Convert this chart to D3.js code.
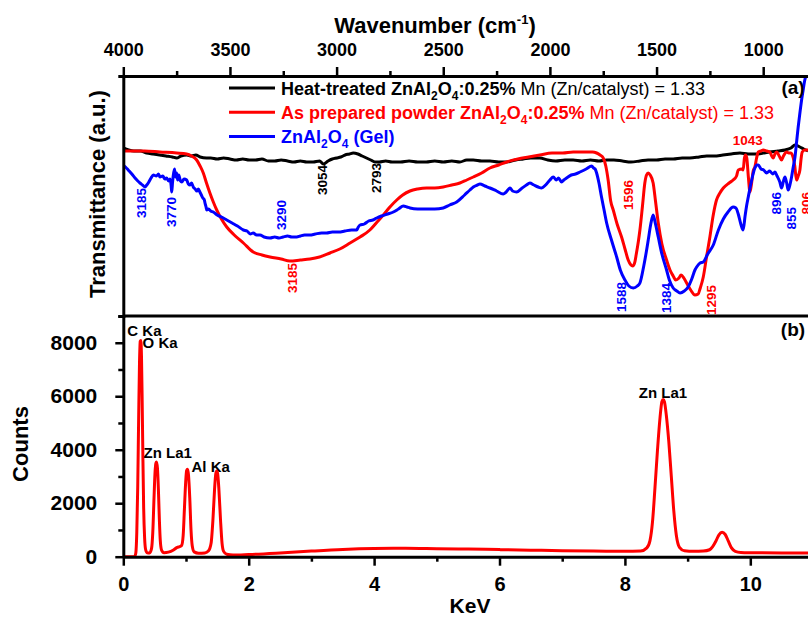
<!DOCTYPE html>
<html lang="en">
<head>
<meta charset="utf-8">
<title>FTIR and EDS of ZnAl2O4:Mn</title>
<script src="https://cdn.jsdelivr.net/npm/d3@7"></script>
<style>
    body { margin: 0; background: #fff; }
    svg { display: block; font-family: "Liberation Sans", Arial, sans-serif; font-weight: bold; }
</style>
</head>
<body>
<svg id="chart"></svg>
<script>
    // ---- data ----
    // FTIR: [wavenumber cm-1, transmittance a.u.]
    const heatTreated = [
        [4000,168],[3975,166],[3950,165],[3920,165],[3890,163],[3860,162],[3830,161],[3800,160],[3770,159],[3750,158],
        [3730,160],[3703,161],[3680,160],[3660,161],[3640,159],[3610,158],[3590,158],[3560,157],[3530,158],[3500,157],
        [3470,156],[3440,157],[3410,156],[3380,156],[3350,157],[3320,155],[3290,155],[3260,156],[3230,155],[3200,154],
        [3170,155],[3140,154],[3110,154],[3080,155],[3062,152],[3040,155],[3020,157],[3000,158],[2980,159],[2960,161],
        [2940,162],[2922,163],[2900,162],[2880,160],[2860,158],[2840,156],[2820,154],[2800,154],[2770,155],[2740,154],
        [2700,154],[2660,155],[2620,154],[2580,154],[2540,155],[2500,154],[2460,155],[2422,154],[2390,156],[2359,156],
        [2320,155],[2281,155],[2240,154],[2203,154],[2160,156],[2125,157],[2090,158],[2047,158],[2010,156],[1972,155],
        [1930,156],[1891,156],[1850,155],[1810,156],[1770,155],[1734,156],[1700,156],[1660,155],[1620,154],[1578,155],
        [1540,156],[1500,156],[1460,157],[1422,157],[1380,158],[1344,158],[1300,159],[1265,160],[1230,160],[1189,161],
        [1150,162],[1109,163],[1070,162],[1031,162],[1000,163],[969,164],[930,165],[898,166],[870,168],[851,171],
        [828,169],[810,167],[790,165]
    ];
    const asPrepared = [
        [4000,165],[3900,165],[3828,164],[3750,163],[3703,162],[3680,160],[3656,156],[3640,150],[3625,143],[3610,133],
        [3594,123],[3578,114],[3562,106],[3540,97],[3515,89],[3480,81],[3437,73],[3391,64],[3350,61],[3312,59],
        [3260,57],[3219,55],[3170,56],[3125,57],[3080,59],[3031,63],[2985,67],[2937,73],[2890,79],[2844,86],
        [2810,94],[2781,101],[2750,109],[2718,116],[2690,121],[2656,125],[2620,127],[2578,128],[2540,128],[2500,129],
        [2460,131],[2422,133],[2390,136],[2359,139],[2320,143],[2281,148],[2240,151],[2203,154],[2150,157],[2100,159],
        [2047,161],[1990,163],[1940,163],[1891,164],[1840,164],[1800,164],[1781,163],[1765,161],[1750,158],[1738,150],
        [1727,136],[1715,115],[1703,106],[1685,92],[1664,79],[1648,67],[1633,56],[1620,51],[1612,50],[1603,53],
        [1595,62],[1585,75],[1578,86],[1566,110],[1555,133],[1547,141],[1539,143],[1530,141],[1516,133],[1505,115],
        [1492,93],[1475,72],[1453,56],[1437,46],[1422,40],[1410,36],[1395,38],[1385,41],[1372,38],[1359,33],
        [1340,26],[1320,21],[1305,22],[1295,28],[1281,39],[1265,60],[1250,79],[1235,100],[1219,116],[1203,123],
        [1187,128],[1160,133],[1141,136],[1125,140],[1117,146],[1100,147],[1094,146],[1088,158],[1083,161],[1077,158],
        [1070,140],[1062,124],[1055,132],[1047,145],[1039,149],[1031,158],[1023,164],[1010,165],[1000,166],[984,165],
        [969,164],[960,160],[953,158],[945,162],[937,164],[925,160],[914,156],[905,160],[890,164],[880,163],
        [870,163],[859,158],[852,150],[844,136],[836,140],[828,146],[822,158],[817,164],[805,166],[790,166]
    ];
    const gel = [
        [4000,151],[3990,149],[3977,146],[3960,142],[3945,138],[3932,135],[3922,133],[3910,131],[3898,129],[3890,131],
        [3883,133],[3870,138],[3859,141],[3845,140],[3835,142],[3828,139],[3815,140],[3805,137],[3797,138],[3788,135],
        [3781,137],[3776,131],[3773,124],[3769,134],[3766,140],[3760,147],[3755,139],[3750,143],[3745,136],[3740,141],
        [3732,135],[3726,134],[3715,137],[3703,136],[3695,132],[3687,131],[3680,133],[3672,129],[3663,127],[3655,125],
        [3648,127],[3641,124],[3634,121],[3627,118],[3620,116],[3617,113],[3612,109],[3609,106],[3600,107],[3590,105],
        [3578,104],[3560,101],[3540,99],[3515,96],[3490,93],[3465,90],[3437,86],[3420,85],[3405,82],[3391,83],
        [3375,81],[3359,81],[3340,79],[3312,78],[3290,79],[3270,78],[3251,79],[3230,80],[3210,79],[3187,79],
        [3170,80],[3150,81],[3125,81],[3100,82],[3070,83],[3047,83],[3020,84],[2990,84],[2961,85],[2930,86],
        [2906,86],[2898,89],[2890,91],[2870,92],[2850,95],[2830,96],[2812,98],[2790,100],[2760,102],[2734,104],
        [2710,107],[2687,110],[2670,109],[2656,108],[2620,107],[2578,107],[2540,107],[2500,108],[2470,111],[2437,114],
        [2400,121],[2375,126],[2359,129],[2340,131],[2328,132],[2305,130],[2281,128],[2250,125],[2219,122],[2205,124],
        [2187,128],[2175,125],[2156,124],[2130,128],[2110,131],[2094,133],[2075,131],[2055,129],[2039,128],[2020,131],
        [2000,136],[1984,139],[1970,136],[1960,138],[1945,134],[1935,136],[1922,138],[1900,141],[1880,142],[1859,144],
        [1830,147],[1804,150],[1795,148],[1788,147],[1781,143],[1770,133],[1758,119],[1746,106],[1734,93],[1710,75],
        [1687,59],[1670,46],[1648,36],[1630,30],[1609,28],[1590,30],[1578,33],[1560,50],[1545,68],[1539,76],
        [1527,92],[1516,101],[1505,92],[1492,79],[1475,62],[1453,46],[1440,36],[1422,28],[1405,25],[1390,23],
        [1370,25],[1352,29],[1335,37],[1320,46],[1312,49],[1296,53],[1281,54],[1260,62],[1234,71],[1210,86],
        [1187,97],[1165,104],[1141,109],[1128,108],[1117,102],[1105,92],[1094,86],[1085,100],[1078,110],[1070,119],
        [1055,135],[1039,148],[1030,151],[1023,151],[1010,147],[998,146],[984,143],[970,145],[955,142],[945,144],
        [935,140],[922,134],[914,128],[905,135],[898,139],[890,133],[883,126],[875,131],[867,139],[860,148],
        [851,159],[843,175],[836,189],[828,203],[820,216],[812,227],[805,236],[800,240]
    ];
    // EDS: [keV, counts]
    const edsSpectrum = [
        [0,0],[0.1,0],[0.18,0],[0.2,150],[0.215,900],[0.23,2600],[0.245,5200],[0.258,7200],[0.27,8050],[0.28,8080],
        [0.29,7500],[0.3,6000],[0.312,3800],[0.325,1800],[0.34,700],[0.355,280],[0.38,150],[0.42,140],[0.45,300],[0.47,900],
        [0.49,2200],[0.505,3100],[0.52,3500],[0.53,3540],[0.545,3300],[0.56,2500],[0.575,1400],[0.59,600],[0.61,250],[0.65,150],
        [0.72,170],[0.8,250],[0.86,350],[0.9,380],[0.93,420],[0.955,800],[0.975,1800],[0.995,2800],[1.01,3220],[1.025,3270],
        [1.04,3050],[1.06,2200],[1.08,1000],[1.1,400],[1.13,180],[1.2,130],[1.3,140],[1.36,220],[1.4,500],[1.43,1400],
        [1.455,2500],[1.475,3100],[1.49,3200],[1.505,3100],[1.525,2500],[1.55,1400],[1.575,500],[1.6,200],[1.65,90],[1.75,60],
        [2.0,80],[2.5,140],[3.0,210],[3.5,270],[4.0,305],[4.5,315],[5.0,300],[5.5,285],[6.0,265],[6.5,245],
        [7.0,225],[7.5,210],[8.0,200],[8.25,210],[8.35,330],[8.4,600],[8.44,1300],[8.48,2600],[8.52,4000],[8.56,5200],
        [8.59,5800],[8.61,5880],[8.63,5800],[8.66,5300],[8.7,4300],[8.74,3000],[8.78,1700],[8.82,800],[8.87,350],[8.95,220],
        [9.1,200],[9.25,210],[9.35,260],[9.4,380],[9.45,580],[9.5,820],[9.55,910],[9.6,830],[9.65,580],[9.7,330],
        [9.76,200],[9.85,160],[10.0,150],[10.5,140],[10.92,140]
    ];

    // tick values
    const waveTicks = [4000, 3500, 3000, 2500, 2000, 1500, 1000];
    const waveMinor = [3750, 3250, 2750, 2250, 1750, 1250, 750].filter(d => d >= 790);
    const kevTicks = [0, 2, 4, 6, 8, 10];
    const kevMinor = [1, 3, 5, 7, 9];
    const countTicks = [0, 2000, 4000, 6000, 8000];
    const countMinor = [1000, 3000, 5000, 7000, 9000];

    // peak labels: [text, wavenumber, transmittance at top end of label, colour]
    const ftirPeaks = [
        ["3054", 3066, 151, "black"], ["2793", 2812, 153, "black"],
        ["3185", 3917, 128, "blue"], ["3770", 3773, 119, "blue"], ["3290", 3258, 116, "blue"],
        ["3185", 3207, 53, "red"], ["1596", 1633, 136, "red"], ["1588", 1664, 34, "blue"],
        ["1384", 1456, 33, "blue"], ["1295", 1242, 31, "red"], ["896", 937, 124, "blue"],
        ["855", 867, 109, "blue"], ["806", 800, 124, "red"]
    ];
    // [text, keV, counts at baseline]
    const edsPeaks = [
        ["C Ka", 0.064, 8235], ["O Ka", 0.307, 7787], ["Zn La1", 0.323, 3683],
        ["Al Ka", 1.088, 3160], ["Zn La1", 8.221, 5922]
    ];

    const series = [
        {data: heatTreated, color: "black"},
        {data: asPrepared, color: "red"},
        {data: gel, color: "blue"}
    ];

    // ---- layout ----
    const svgSize = {width: 808, height: 617};
    const frame = {left: 123.3, top: 76, mid: 316, bottom: 556.7, right: 808};

    const svg = d3.select("#chart").attr("width", svgSize.width).attr("height", svgSize.height);

    const xWave = d3.scaleLinear().domain([4000, 790]).range([frame.left, frame.right]);
    const yTrans = d3.scaleLinear().domain([0, 240]).range([frame.mid, frame.top]);
    const xKev = d3.scaleLinear().domain([0, 10.92]).range([frame.left, frame.right]);
    const yCounts = d3.scaleLinear().domain([0, 9000]).range([frame.bottom, frame.mid]);

    const defs = svg.append("defs");
    defs.append("clipPath").attr("id", "clipA").append("rect")
        .attr("x", frame.left).attr("y", frame.top)
        .attr("width", frame.right - frame.left).attr("height", frame.mid - frame.top);
    defs.append("clipPath").attr("id", "clipB").append("rect")
        .attr("x", frame.left).attr("y", frame.mid)
        .attr("width", frame.right - frame.left).attr("height", frame.bottom - frame.mid);

    // ---- curves ----
    const lineA = d3.line().x(d => xWave(d[0])).y(d => yTrans(d[1])).curve(d3.curveMonotoneX);
    const lineB = d3.line().x(d => xKev(d[0])).y(d => yCounts(d[1])).curve(d3.curveMonotoneX);

    svg.append("g").attr("clip-path", "url(#clipA)")
        .selectAll("path")
        .data(series)
        .join("path")
        .attr("d", d => lineA(d.data))
        .attr("fill", "none")
        .attr("stroke", d => d.color)
        .attr("stroke-width", 3)
        .attr("stroke-linejoin", "round");

    svg.append("path")
        .attr("clip-path", "url(#clipB)")
        .attr("d", lineB(edsSpectrum))
        .attr("fill", "none")
        .attr("stroke", "red")
        .attr("stroke-width", 3)
        .attr("stroke-linejoin", "round");

    // ---- axes ----
    function styleAxis(g, fontSize) {
        g.attr("font-family", null).attr("font-size", fontSize).attr("font-weight", "bold");
        g.selectAll("line").attr("stroke", "#000").attr("stroke-width", 2.5);
        g.selectAll("path").attr("stroke", "#000").attr("stroke-width", 3);
        g.selectAll("text").attr("fill", "#000");
    }

    svg.append("g")
        .attr("transform", `translate(0,${frame.top})`)
        .call(d3.axisTop(xWave).tickValues(waveTicks).tickSize(9).tickSizeOuter(0).tickPadding(11).tickFormat(d3.format("d")))
        .call(g => styleAxis(g, 18));
    svg.append("g")
        .attr("transform", `translate(0,${frame.top})`)
        .call(d3.axisTop(xWave).tickValues(waveMinor).tickSize(5).tickFormat(""))
        .call(g => styleAxis(g, 18))
        .call(g => g.select(".domain").remove());

    svg.append("g")
        .attr("transform", `translate(0,${frame.bottom})`)
        .call(d3.axisBottom(xKev).tickValues(kevTicks).tickSize(9).tickSizeOuter(0).tickPadding(11).tickFormat(d3.format("d")))
        .call(g => styleAxis(g, 20));
    svg.append("g")
        .attr("transform", `translate(0,${frame.bottom})`)
        .call(d3.axisBottom(xKev).tickValues(kevMinor).tickSize(5).tickFormat(""))
        .call(g => styleAxis(g, 20))
        .call(g => g.select(".domain").remove());

    svg.append("g")
        .attr("transform", `translate(${frame.left},0)`)
        .call(d3.axisLeft(yCounts).tickValues(countTicks).tickSize(8).tickSizeOuter(0).tickPadding(18).tickFormat(d3.format("d")))
        .call(g => styleAxis(g, 21));
    svg.append("g")
        .attr("transform", `translate(${frame.left},0)`)
        .call(d3.axisLeft(yCounts).tickValues(countMinor).tickSize(5).tickFormat(""))
        .call(g => styleAxis(g, 21))
        .call(g => g.select(".domain").remove());

    svg.append("g")
        .attr("transform", `translate(${frame.left},0)`)
        .call(d3.axisLeft(yTrans).tickValues([]).tickSizeOuter(5))
        .call(g => styleAxis(g, 18));

    // line between panels
    svg.append("line")
        .attr("x1", frame.left).attr("x2", frame.right)
        .attr("y1", frame.mid).attr("y2", frame.mid)
        .attr("stroke", "#000").attr("stroke-width", 3);

    // ---- axis titles ----
    const title = svg.append("text")
        .attr("x", 435).attr("y", 33)
        .attr("text-anchor", "middle").attr("font-size", 22);
    title.append("tspan").text("Wavenumber (cm");
    title.append("tspan").attr("font-size", 13).attr("dy", -9).text("-1");
    title.append("tspan").attr("dy", 9).text(")");

    svg.append("text")
        .attr("x", 470).attr("y", 613)
        .attr("text-anchor", "middle").attr("font-size", 21)
        .text("KeV");

    svg.append("text")
        .attr("transform", "translate(97,194) rotate(-90)")
        .attr("text-anchor", "middle").attr("dy", "0.35em").attr("font-size", 22)
        .text("Transmittance (a.u.)");

    svg.append("text")
        .attr("transform", "translate(20,444) rotate(-90)")
        .attr("text-anchor", "middle").attr("dy", "0.35em").attr("font-size", 22)
        .text("Counts");

    svg.append("text").attr("x", 793).attr("y", 94).attr("text-anchor", "middle").attr("font-size", 19).text("(a)");
    svg.append("text").attr("x", 793).attr("y", 336).attr("text-anchor", "middle").attr("font-size", 19).text("(b)");

    // ---- legend ----
    const legendRows = [
        {color: "black", bold: "Heat-treated ", rest: " Mn (Zn/catalyst) = 1.33", formula: true},
        {color: "red", bold: "As prepared powder ", rest: " Mn (Zn/catalyst) = 1.33", formula: true},
        {color: "blue", bold: "", rest: "", formula: false}
    ];
    const legend = svg.append("g").attr("font-size", 18).style("white-space", "pre");
    legendRows.forEach((row, i) => {
        const y = 88 + i * 24.3;
        legend.append("line")
            .attr("x1", 229).attr("x2", 275).attr("y1", y).attr("y2", y)
            .attr("stroke", row.color).attr("stroke-width", 3);
        const t = legend.append("text").attr("x", 281).attr("y", y + 6.5).attr("fill", row.color);
        t.append("tspan").text(row.bold + "ZnAl");
        t.append("tspan").attr("font-size", 12).attr("dy", 5).text("2");
        t.append("tspan").attr("dy", -5).text("O");
        t.append("tspan").attr("font-size", 12).attr("dy", 5).text("4");
        if (row.formula) {
            t.append("tspan").attr("dy", -5).text(":0.25%");
            t.append("tspan").attr("font-weight", "normal").text(row.rest);
        } else {
            t.append("tspan").attr("dy", -5).text(" (Gel)");
        }
    });

    // ---- peak labels ----
    svg.append("g").attr("font-size", 13.5)
        .selectAll("text")
        .data(ftirPeaks)
        .join("text")
        .attr("transform", d => `translate(${xWave(d[1])},${yTrans(d[2])}) rotate(-90)`)
        .attr("text-anchor", "end")
        .attr("dy", "0.35em")
        .attr("fill", d => d[3])
        .text(d => d[0]);

    svg.append("text")
        .attr("x", xWave(1072)).attr("y", yTrans(171))
        .attr("text-anchor", "middle").attr("font-size", 13.5).attr("fill", "red")
        .text("1043");

    svg.append("g").attr("font-size", 15)
        .selectAll("text")
        .data(edsPeaks)
        .join("text")
        .attr("x", d => xKev(d[1]))
        .attr("y", d => yCounts(d[2]))
        .text(d => d[0]);
</script>
</body>
</html>
